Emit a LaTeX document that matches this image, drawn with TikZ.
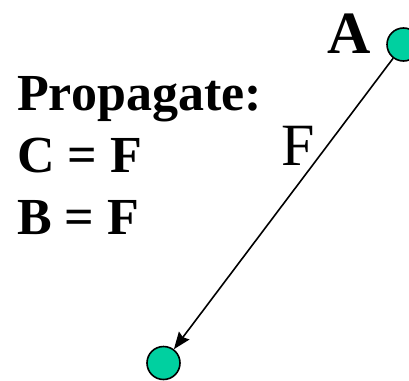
\documentclass[tikz,border=0pt]{standalone}
\usepackage{fontspec}
\setmainfont{Liberation Serif}
\usepackage{xcolor}
\usetikzlibrary{arrows.meta,positioning}

\definecolor{vertexgreen}{RGB}{0,208,160}

\tikzset{
  vertex/.style={circle, draw=black, line width=1.6pt, fill=vertexgreen,
    minimum size=33pt, inner sep=0pt},
  bigtext/.style={font=\fontsize{52}{62}\selectfont\bfseries, inner sep=0pt,
    anchor=base west},
}

\begin{document}
\begin{tikzpicture}[x=1pt, y=-1pt]

\useasboundingbox (0,0) rectangle (409,380);
\clip (0,0) rectangle (409,380);

% the two vertices
\node[vertex] (a) at (403.5,44.5) {};
\node[vertex] (c) at (163.5,363) {};
\node[font=\fontsize{60}{60}\selectfont\bfseries, inner sep=0pt,
  anchor=base east] (labA) at (371,53) {A};

% propagated assignment
\draw[line width=1.6pt, -{Stealth[length=17pt, width=13pt, inset=2pt]}]
  (a) -- (c)
  node[pos=0.3, left=12pt, font=\fontsize{60}{60}\selectfont,
    inner sep=0pt] (labF) {F};

% text on the left
\node[bigtext] (prop) at (17,110) {Propagate:};
\node[bigtext] (lineC) at (17,172) {C = F};
\node[bigtext] (lineB) at (17,234) {B = F};

\end{tikzpicture}
\end{document}
